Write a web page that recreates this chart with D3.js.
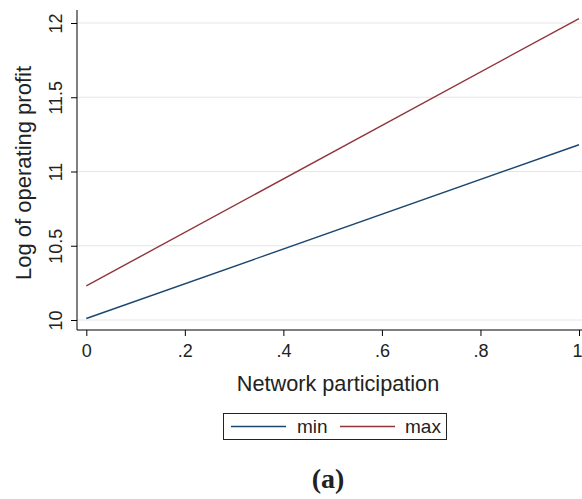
<!DOCTYPE html>
<html>
<head>
<meta charset="utf-8">
<script src="https://cdn.jsdelivr.net/npm/d3@7"></script>
<style>
  body { margin: 0; background: #fff; }
  text { font-family: "Liberation Sans", Arial, sans-serif; fill: #222; }
</style>
</head>
<body>
<svg id="chart" width="582" height="499"></svg>
<script>
// data
var xDomain = [0, 1];
var seriesNames = ['min', 'max'];
var minValues = [{x: 0, y: 10.01}, {x: 1, y: 11.18}];
var maxValues = [{x: 0, y: 10.23}, {x: 1, y: 12.03}];
var yTicks = [10, 10.5, 11, 11.5, 12];
var xTicks = [0, 0.2, 0.4, 0.6, 0.8, 1];
var colors = ['#1a476f', '#90353b'];

var svg = d3.select('#chart');

// plot area
var axisX = 77, axisY = 330;
var x = d3.scaleLinear().domain(xDomain).range([86.3, 579]);
var y = d3.scaleLinear().domain([10, 12]).range([320, 23]);

// gridlines
svg.append('g').selectAll('line')
  .data(yTicks)
  .enter().append('line')
  .attr('x1', axisX).attr('x2', 582)
  .attr('y1', function(d) { return y(d); })
  .attr('y2', function(d) { return y(d); })
  .attr('stroke', '#e6e6e6')
  .attr('stroke-width', 1);

// y axis
var yAxis = d3.axisLeft(y).tickValues(yTicks).tickSize(6).tickPadding(5)
  .tickFormat(function(d) { return String(d); });
var gy = svg.append('g').attr('transform', 'translate(' + axisX + ',0)').call(yAxis);
gy.select('.domain').remove();
gy.append('line').attr('x1', 0).attr('x2', 0).attr('y1', 10).attr('y2', axisY)
  .attr('stroke', '#000').attr('stroke-width', 1);
gy.selectAll('.tick line').attr('stroke', '#000');
gy.selectAll('.tick text')
  .attr('fill', '#222')
  .style('font-size', '18px')
  .attr('text-anchor', 'middle')
  .attr('transform', 'translate(-15,0) rotate(-90)')
  .attr('x', 0).attr('dy', 0);

// x axis
var xAxis = d3.axisBottom(x).tickValues(xTicks).tickSize(6).tickPadding(8)
  .tickFormat(function(d) { return d === 0 || d === 1 ? String(d) : String(d).replace('0.', '.'); });
var gx = svg.append('g').attr('transform', 'translate(0,' + axisY + ')').call(xAxis);
gx.select('.domain').remove();
gx.append('line').attr('x1', axisX).attr('x2', 582).attr('y1', 0).attr('y2', 0)
  .attr('stroke', '#000').attr('stroke-width', 1);
gx.selectAll('.tick line').attr('stroke', '#000');
gx.selectAll('.tick text').attr('fill', '#222').style('font-size', '18px');
// keep the last label inside the page edge
gx.selectAll('.tick text').filter(function(d) { return d === 1; })
  .attr('text-anchor', 'end').attr('x', 3);

// titles
svg.append('text')
  .attr('transform', 'translate(31,173) rotate(-90)')
  .attr('text-anchor', 'middle')
  .style('font-size', '22px')
  .text('Log of operating profit');

svg.append('text')
  .attr('x', 338).attr('y', 391)
  .attr('text-anchor', 'middle')
  .style('font-size', '21.7px')
  .text('Network participation');

// lines
var line = d3.line()
  .x(function(d) { return x(d.x); })
  .y(function(d) { return y(d.y); });

[minValues, maxValues].forEach(function(s, i) {
  svg.append('path')
    .datum(s)
    .attr('d', line)
    .attr('fill', 'none')
    .attr('stroke', colors[i])
    .attr('stroke-width', 1.4);
});

// legend
var legend = svg.append('g');
legend.append('rect')
  .attr('x', 223.5).attr('y', 413.5).attr('width', 223).attr('height', 26)
  .attr('fill', '#fff').attr('stroke', '#222').attr('stroke-width', 1);
var items = [{x: 231, tx: 297}, {x: 340, tx: 405}];
items.forEach(function(it, i) {
  legend.append('line')
    .attr('x1', it.x).attr('x2', it.x + 55)
    .attr('y1', 426.5).attr('y2', 426.5)
    .attr('stroke', colors[i]).attr('stroke-width', 1.4);
  legend.append('text')
    .attr('x', it.tx).attr('y', 433)
    .style('font-size', '19px')
    .text(seriesNames[i]);
});

// panel label
svg.append('text')
  .attr('x', 328).attr('y', 488)
  .attr('text-anchor', 'middle')
  .style('font-family', '"Liberation Serif", "Times New Roman", serif')
  .style('font-weight', 'bold')
  .style('font-size', '28px')
  .text('(a)');
</script>
</body>
</html>
